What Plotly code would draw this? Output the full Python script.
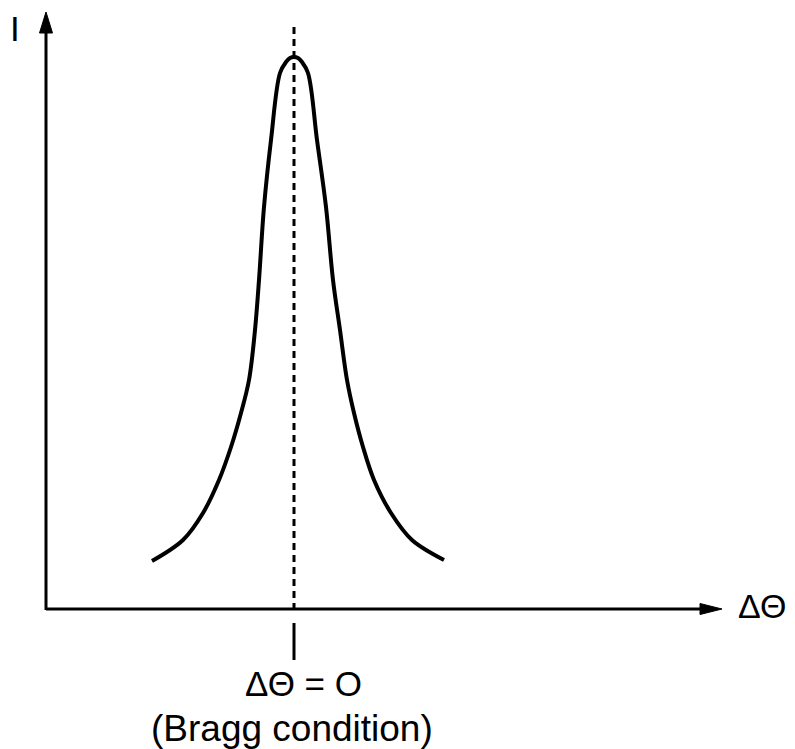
import plotly.graph_objects as go

# Rocking curve (arbitrary units): delta theta vs intensity
delta_theta = [-142, -111, -91, -75, -63, -53, -45, -39, -35, -30, -23, -14, -8, -4, 0,
               4, 8, 14, 23, 32, 39, 46, 53, 60, 69, 80, 97, 118, 150]
intensity = [49, 70, 97, 130, 163, 197, 230, 280, 330, 403, 470, 537, 548, 552, 553,
             552, 548, 537, 470, 403, 330, 280, 230, 197, 163, 130, 97, 70, 50]

axis_x_label = "ΔΘ"
axis_y_label = "I"
bragg_label = "ΔΘ = O"
bragg_note = "(Bragg condition)"

FONT = "Liberation Sans, Arial, sans-serif"
BLACK = "#000000"

fig = go.Figure()

fig.add_trace(go.Scatter(
    x=delta_theta, y=intensity, mode="lines",
    line=dict(color=BLACK, width=4, shape="spline", smoothing=1.0),
    hoverinfo="skip", showlegend=False,
))

x_origin = -248
x_end = 428
y_end = 598

shapes = [
    # y axis
    dict(type="line", x0=x_origin, y0=0, x1=x_origin, y1=y_end - 18,
         line=dict(color=BLACK, width=3)),
    dict(type="path", path=f"M{x_origin},{y_end} L{x_origin-6.5},{y_end-21} L{x_origin+6.5},{y_end-21} Z",
         fillcolor=BLACK, line=dict(color=BLACK, width=1)),
    # x axis
    dict(type="line", x0=x_origin, y0=1, x1=x_end - 20, y1=1,
         line=dict(color=BLACK, width=3)),
    dict(type="path", path=f"M{x_end},1 L{x_end-22},6.5 L{x_end-22},-4.5 Z",
         fillcolor=BLACK, line=dict(color=BLACK, width=1)),
    # dashed Bragg line
    dict(type="line", x0=0, y0=0, x1=0, y1=585,
         line=dict(color=BLACK, width=3, dash="7px,5px")),
    # tick below axis
    dict(type="line", x0=0, y0=-13, x1=0, y1=-50,
         line=dict(color=BLACK, width=3)),
]

annotations = [
    dict(x=-279, y=582, text=axis_y_label, showarrow=False,
         font=dict(family=FONT, size=35, color=BLACK)),
    dict(x=468, y=4, text=axis_x_label, showarrow=False,
         font=dict(family=FONT, size=34, color=BLACK)),
    dict(x=9, y=-73, text=bragg_label, showarrow=False,
         font=dict(family=FONT, size=35, color=BLACK)),
    dict(x=-2, y=-118, text=bragg_note, showarrow=False,
         font=dict(family=FONT, size=37, color=BLACK)),
]

# The page body has an 8px margin, so the axis ranges are offset by 8px
fig.update_layout(
    width=795, height=749,
    margin=dict(l=0, r=0, t=0, b=0),
    paper_bgcolor="white", plot_bgcolor="white",
    xaxis=dict(visible=False, range=[-286, 509], fixedrange=True),
    yaxis=dict(visible=False, range=[-147, 602], fixedrange=True),
    shapes=shapes, annotations=annotations,
    showlegend=False,
)

fig.write_html("out.html")
